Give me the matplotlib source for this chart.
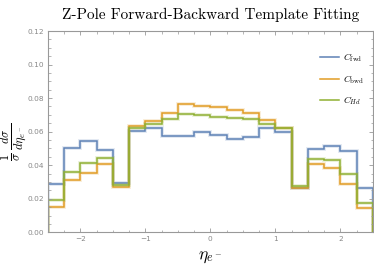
import numpy as np
import matplotlib
matplotlib.use("Agg")
import matplotlib.pyplot as plt
from matplotlib.ticker import MultipleLocator

plt.rcParams['mathtext.fontset'] = 'cm'

edges = np.arange(-2.5, 2.51, 0.25)
c_fwd = [0.0288, 0.0504, 0.0544, 0.0488, 0.0296, 0.0606, 0.0620, 0.0576, 0.0576, 0.0595,
         0.0580, 0.0555, 0.0570, 0.0620, 0.0595, 0.0263, 0.0496, 0.0515, 0.0486, 0.0267]
c_bwd = [0.0152, 0.0312, 0.0354, 0.0410, 0.0270, 0.0634, 0.0666, 0.0714, 0.0766, 0.0750,
         0.0748, 0.0730, 0.0714, 0.0670, 0.0623, 0.0265, 0.0406, 0.0384, 0.0287, 0.0147]
c_hd = [0.0190, 0.0360, 0.0416, 0.0440, 0.0284, 0.0620, 0.0646, 0.0674, 0.0703, 0.0702,
        0.0689, 0.0683, 0.0677, 0.0647, 0.0619, 0.0273, 0.0436, 0.0428, 0.0346, 0.0177]

series = [(c_fwd, '#5E81B5', r'$C_{\rm fwd}$'),
          (c_bwd, '#E19C24', r'$C_{\rm bwd}$'),
          (c_hd, '#8FB032', r'$C_{Hd}$')]

fig = plt.figure(figsize=(3.74, 2.72), dpi=100)
ax = fig.add_axes([0.128, 0.146, 0.869, 0.740])

for vals, col, lab in series:
    ax.stairs(vals, edges, color=col, lw=2.8, alpha=0.18)
    ax.stairs(vals, edges, color=col, lw=1.1, label=lab)

ax.set_xlim(-2.5, 2.5)
ax.set_ylim(0, 0.12)
ax.xaxis.set_major_locator(MultipleLocator(1))
ax.xaxis.set_minor_locator(MultipleLocator(0.25))
ax.yaxis.set_major_locator(MultipleLocator(0.02))
ax.yaxis.set_minor_locator(MultipleLocator(0.005))
ax.set_yticklabels(['%.2f' % v for v in ax.get_yticks()])
ax.set_xticklabels(['\u22122' if v == -2 else '\u22121' if v == -1 else '%d' % v for v in ax.get_xticks()])
ax.tick_params(which='both', direction='in', top=True, right=True, color='#999999',
               labelcolor='#888888', labelsize=5.3, pad=2.5)
ax.tick_params(which='major', length=3, width=0.6)
ax.tick_params(which='minor', length=1.8, width=0.5)
for s in ax.spines.values():
    s.set_color('#999999')
    s.set_linewidth(0.8)

ax.set_title('Z-Pole Forward-Backward Template Fitting', fontfamily='cmr10',
             fontsize=11, pad=9)
ax.set_xlabel(r'$\eta_{e^-}$', fontsize=12.5, labelpad=4)
ax.set_ylabel(r'$\frac{1}{\sigma}\,\frac{d\sigma}{d\eta_{e^-}}$', fontsize=12.5)
ax.yaxis.set_label_coords(-0.058, 0.45)

leg = ax.legend(loc='upper right', frameon=False, fontsize=7, handlelength=2.0,
                labelspacing=0.9, handletextpad=0.4, bbox_to_anchor=(1.0, 0.94))

fig.savefig('out.png', dpi=100)
